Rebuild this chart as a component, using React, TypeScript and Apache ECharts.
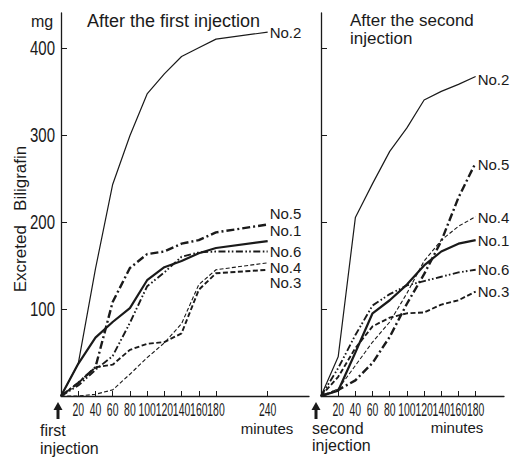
import React, { useEffect, useRef } from "react";
import * as echarts from "echarts";

// ---------- data ----------
const leftTimes = [0, 20, 40, 60, 80, 100, 120, 140, 160, 180, 240];
const rightTimes = [0, 20, 40, 60, 80, 100, 120, 140, 160, 180];

const seriesNames = ["No.1", "No.2", "No.3", "No.4", "No.5", "No.6"];

const leftNo1 = [0, 37, 67, 85, 101, 133, 148, 155, 164, 170, 178];
const leftNo2 = [0, 37, 146, 243, 299, 347, 370, 390, 400, 410, 418];
const leftNo3 = [0, 15, 33, 36, 53, 60, 62, 72, 122, 141, 145];
const leftNo4 = [0, 0, 2, 7, 25, 44, 61, 83, 128, 145, 153];
const leftNo5 = [0, 15, 33, 108, 147, 163, 166, 175, 179, 188, 197];
const leftNo6 = [0, 12, 30, 46, 84, 126, 142, 160, 165, 166, 166];

const rightNo1 = [0, 6, 50, 95, 110, 128, 150, 166, 175, 179];
const rightNo2 = [0, 45, 205, 244, 281, 308, 340, 350, 358, 367];
const rightNo3 = [0, 22, 55, 80, 90, 95, 96, 105, 110, 120];
const rightNo4 = [0, 8, 35, 62, 85, 118, 155, 179, 195, 206];
const rightNo5 = [0, 7, 18, 38, 68, 106, 140, 178, 228, 268];
const rightNo6 = [0, 32, 70, 104, 117, 127, 132, 137, 142, 145];

const leftXTicks = [20, 40, 60, 80, 100, 120, 140, 160, 180, 240];
const rightXTicks = [20, 40, 60, 80, 100, 120, 140, 160, 180];
const yTicks = [100, 200, 300, 400];

const leftValues = [leftNo1, leftNo2, leftNo3, leftNo4, leftNo5, leftNo6];
const rightValues = [rightNo1, rightNo2, rightNo3, rightNo4, rightNo5, rightNo6];

// ---------- styles ----------
const FONT = "'Liberation Sans', Arial, sans-serif";
const INK = "#1a1a1a";

const lineStyles: Record<string, any> = {
  "No.1": { width: 2.2, type: "solid" },
  "No.2": { width: 1.2, type: "solid" },
  "No.3": { width: 1.9, type: [5, 2.5] },
  "No.4": { width: 1.1, type: [4, 2.2] },
  "No.5": { width: 2.4, type: [8, 3, 2, 3] },
  "No.6": { width: 1.9, type: [7, 2.5, 1.6, 2.2, 1.6, 2.5] },
};

const leftLabelOffset: Record<string, number[]> = {
  "No.1": [0, -11],
  "No.2": [0, 0],
  "No.3": [0, 13],
  "No.4": [0, 4.2],
  "No.5": [0, -11.5],
  "No.6": [0, -0.5],
};
const rightLabelOffset: Record<string, number[]> = {
  "No.1": [0, 0],
  "No.2": [0, 3],
  "No.3": [0, 0],
  "No.4": [0, 1],
  "No.5": [0, 2],
  "No.6": [0, 0],
};

function makeSeries(times: number[], values: number[][], idx: number, offsets: Record<string, number[]>) {
  return seriesNames.map((name, i) => ({
    name,
    type: "line",
    xAxisIndex: idx,
    yAxisIndex: idx,
    data: times.map((t, k) => [t, values[i][k]]),
    symbol: "none",
    silent: true,
    lineStyle: { color: INK, width: lineStyles[name].width, type: lineStyles[name].type },
    endLabel: {
      show: true,
      formatter: name,
      offset: offsets[name],
      distance: 2,
      color: INK,
      fontSize: 15,
      fontFamily: FONT,
    },
  }));
}

const axisLineStyle = { lineStyle: { color: INK, width: 1.3 } };

function xAxis(idx: number, max: number, ticks: number[]) {
  return {
    type: "value",
    gridIndex: idx,
    min: 0,
    max,
    splitLine: { show: false },
    axisLine: { show: true, ...axisLineStyle },
    axisTick: { show: true, inside: true, length: 5, customValues: ticks, lineStyle: { color: INK, width: 1 } },
    axisLabel: { show: false },
  };
}

function yAxis(idx: number) {
  return {
    type: "value",
    gridIndex: idx,
    min: 0,
    max: 440,
    splitLine: { show: false },
    axisLine: { show: true, ...axisLineStyle },
    axisTick: { show: true, inside: true, length: 6, customValues: yTicks, lineStyle: { color: INK, width: 1 } },
    axisLabel: { show: false },
  };
}

const textStyle = (extra: any) => ({ fill: INK, fontFamily: FONT, ...extra });

function arrow(x: number) {
  return {
    type: "group",
    children: [
      { type: "line", shape: { x1: x, y1: 419, x2: x, y2: 408 }, style: { stroke: INK, lineWidth: 3 } },
      { type: "polygon", shape: { points: [[x - 4.5, 410], [x, 402], [x + 4.5, 410]] }, style: { fill: INK } },
    ],
  };
}

const staticGraphics: any[] = [
  { type: "text", x: 42, y: 21, style: textStyle({ text: "mg", fontSize: 16, align: "center", verticalAlign: "middle" }) },
  {
    type: "text",
    x: 20,
    y: 219,
    rotation: Math.PI / 2,
    style: textStyle({ text: "Excreted   Biligrafin", fontSize: 17, align: "center", verticalAlign: "middle" }),
  },
  arrow(58),
  arrow(316),
  {
    type: "text",
    x: 40,
    y: 421,
    style: textStyle({ text: "first\ninjection", fontSize: 16, lineHeight: 18, align: "left", verticalAlign: "top" }),
  },
  {
    type: "text",
    x: 312,
    y: 419.5,
    style: textStyle({ text: "second\ninjection", fontSize: 16, lineHeight: 17, align: "left", verticalAlign: "top" }),
  },
  { type: "text", x: 267, y: 428, style: textStyle({ text: "minutes", fontSize: 15, align: "center", verticalAlign: "middle" }) },
  { type: "text", x: 457, y: 427, style: textStyle({ text: "minutes", fontSize: 15, align: "center", verticalAlign: "middle" }) },
];

const option: any = {
  animation: false,
  backgroundColor: "#fff",
  grid: [
    { left: 61, top: 13, width: 248, bottom: 62, outerBoundsMode: "none" },
    { left: 321, top: 13, width: 183, bottom: 62, outerBoundsMode: "none" },
  ],
  xAxis: [xAxis(0, 288, leftXTicks), xAxis(1, 213, rightXTicks)],
  yAxis: [yAxis(0), yAxis(1)],
  title: [
    {
      text: "After the first injection",
      left: 82,
      top: 7,
      textStyle: { color: INK, fontSize: 18, fontWeight: "normal", fontFamily: FONT },
    },
    {
      text: "After the second\ninjection",
      left: 345,
      top: 7,
      textStyle: { color: INK, fontSize: 17, fontWeight: "normal", fontFamily: FONT, lineHeight: 17.5 },
    },
  ],
  series: [...makeSeries(leftTimes, leftValues, 0, leftLabelOffset), ...makeSeries(rightTimes, rightValues, 1, rightLabelOffset)],
};

// tick labels in a condensed lettering, placed through the axes' own scales
function tickLabelGraphics(chart: any) {
  const out: any[] = [];
  const addX = (grid: number, ticks: number[]) => {
    ticks.forEach((v) => {
      const p = chart.convertToPixel({ gridIndex: grid }, [v, 0]);
      out.push({
        type: "text",
        x: p[0],
        y: p[1] + 13.5,
        scaleX: 0.58,
        style: textStyle({ text: String(v), fontSize: 18, align: "center", verticalAlign: "middle" }),
      });
    });
  };
  addX(0, leftXTicks);
  addX(1, rightXTicks);
  yTicks.forEach((v) => {
    const p = chart.convertToPixel({ gridIndex: 0 }, [0, v]);
    out.push({
      type: "text",
      x: p[0] - 6,
      y: p[1],
      scaleX: 0.75,
      style: textStyle({ text: String(v), fontSize: 20, align: "right", verticalAlign: "middle" }),
    });
  });
  return out;
}

export default function App() {
  const ref = useRef<HTMLDivElement>(null);
  useEffect(() => {
    document.body.style.margin = "0";
    const chart = echarts.init(ref.current as HTMLDivElement, null, { renderer: "svg" });
    chart.setOption(option);
    chart.setOption({ graphic: [...staticGraphics, ...tickLabelGraphics(chart)] });
    return () => chart.dispose();
  }, []);
  return <div ref={ref} style={{ width: 516, height: 458, background: "#fff" }} />;
}
